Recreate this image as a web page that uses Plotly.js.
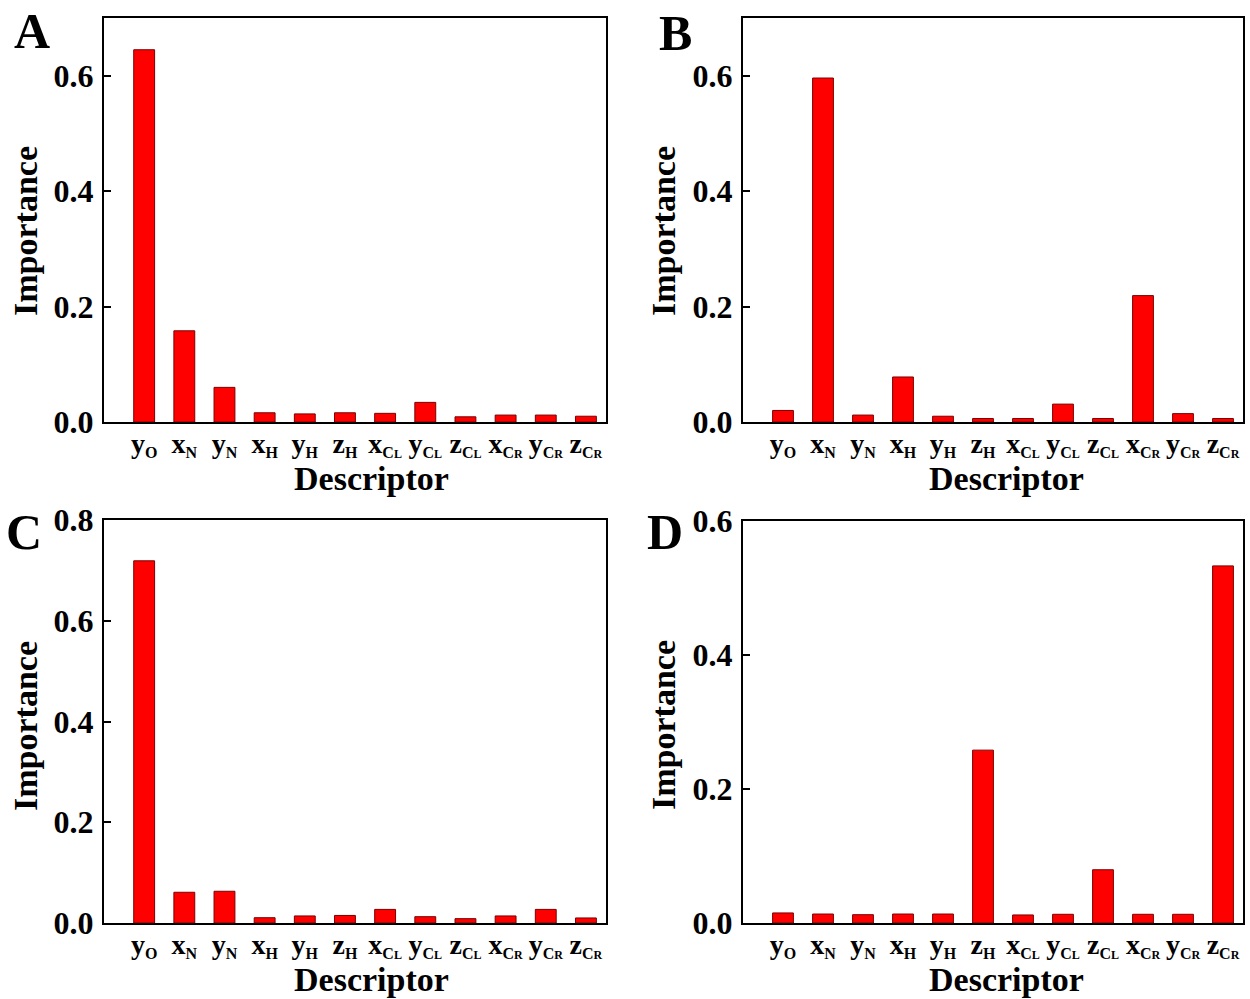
<!DOCTYPE html>
<html>
<head>
<meta charset="utf-8">
<script src="https://cdn.plot.ly/plotly-3.0.1.min.js"></script>
<style>html,body{margin:0;padding:0;background:#fff;}#plot{width:1250px;height:999px;}</style>
</head>
<body>
<div id="plot"></div>
<script>
// Descriptor categories (tick labels)
const categories = [
  'y<sub><span style="font-size:16px">O</span></sub>',
  'x<sub><span style="font-size:16px">N</span></sub>',
  'y<sub><span style="font-size:16px">N</span></sub>',
  'x<sub><span style="font-size:16px">H</span></sub>',
  'y<sub><span style="font-size:16px">H</span></sub>',
  'z<sub><span style="font-size:16px">H</span></sub>',
  'x<sub><span style="font-size:16px">C</span><span style="font-size:12px">L</span></sub>',
  'y<sub><span style="font-size:16px">C</span><span style="font-size:12px">L</span></sub>',
  'z<sub><span style="font-size:16px">C</span><span style="font-size:12px">L</span></sub>',
  'x<sub><span style="font-size:16px">C</span><span style="font-size:12px">R</span></sub>',
  'y<sub><span style="font-size:16px">C</span><span style="font-size:12px">R</span></sub>',
  'z<sub><span style="font-size:16px">C</span><span style="font-size:12px">R</span></sub>'
];
// Importance values per panel
const importanceA = [0.645, 0.158, 0.060, 0.016, 0.014, 0.016, 0.015, 0.034, 0.009, 0.012, 0.012, 0.010];
const importanceB = [0.020, 0.596, 0.012, 0.078, 0.010, 0.006, 0.006, 0.031, 0.006, 0.219, 0.0145, 0.006];
const importanceC = [0.719, 0.061, 0.063, 0.0105, 0.014, 0.015, 0.027, 0.0125, 0.0086, 0.014, 0.027, 0.010];
const importanceD = [0.015, 0.0134, 0.0124, 0.0134, 0.0134, 0.258, 0.012, 0.013, 0.0795, 0.013, 0.013, 0.533];
const panelLabels = ['A', 'B', 'C', 'D'];
const yTickValsAB = [0, 0.2, 0.4, 0.6];
const yTickValsC = [0, 0.2, 0.4, 0.6, 0.8];
const yTickValsD = [0, 0.2, 0.4, 0.6];
const yTickText = (v) => v.map(x => x.toFixed(1));

const FONT = '"Liberation Serif", "Times New Roman", serif';
const W = 1250, H = 999;
const px = (x) => x / W;
const py = (y) => 1 - y / H;

const series = [importanceA, importanceB, importanceC, importanceD];
const traces = series.map((vals, i) => ({
  type: 'bar',
  x: categories,
  y: vals,
  xaxis: i === 0 ? 'x' : 'x' + (i + 1),
  yaxis: i === 0 ? 'y' : 'y' + (i + 1),
  width: 0.52,
  marker: {color: '#ff0000', line: {color: '#7a0000', width: 1}},
  hoverinfo: 'y'
}));

const xDom = [[px(104), px(606)], [px(743), px(1243)], [px(104), px(606)], [px(743), px(1243)]];
const yDom = [[py(422), py(18)], [py(422), py(18)], [py(923), py(520)], [py(923), py(521)]];
const yRanges = [[0, 0.7], [0, 0.7], [0, 0.8], [0, 0.6]];
const yTicks = [yTickValsAB, yTickValsAB, yTickValsC, yTickValsD];

const layout = {
  width: W, height: H,
  margin: {l: 0, r: 0, t: 0, b: 0},
  paper_bgcolor: '#fff', plot_bgcolor: '#fff',
  showlegend: false,
  font: {family: FONT, color: '#000'},
  annotations: []
};

for (let i = 0; i < 4; i++) {
  const s = i === 0 ? '' : String(i + 1);
  layout['xaxis' + s] = {
    domain: xDom[i], anchor: 'y' + s,
    type: 'category', range: [-1, 11.5],
    showline: true, linecolor: '#000', linewidth: 2, mirror: true,
    ticks: '', showgrid: false, zeroline: false,
    tickfont: {family: FONT, size: 28, color: '#000', weight: 'bold'},
    ticklabelstandoff: -5
  };
  layout['yaxis' + s] = {
    domain: yDom[i], anchor: 'x' + s,
    range: yRanges[i],
    tickvals: yTicks[i], ticktext: yTickText(yTicks[i]),
    showline: true, linecolor: '#000', linewidth: 2, mirror: true,
    ticks: 'inside', ticklen: 7, tickwidth: 2, tickcolor: '#000',
    showgrid: false, zeroline: false,
    tickfont: {family: FONT, size: 32, color: '#000', weight: 'bold'},
    ticklabelstandoff: 2
  };
}

const descX = [372, 1006, 372, 1006];
const descY = [479, 479, 979, 979];
const impX = [25, 663, 25, 663];
const impY = [231, 231, 726, 725];
const letX = [32, 675, 24, 665];
const letY = [31, 33, 532, 532];
for (let i = 0; i < 4; i++) {
  layout.annotations.push({
    xref: 'paper', yref: 'paper', x: px(descX[i]), y: py(descY[i]),
    xanchor: 'center', yanchor: 'middle', showarrow: false,
    text: '<b>Descriptor</b>', font: {family: FONT, size: 34, color: '#000'}
  });
  layout.annotations.push({
    xref: 'paper', yref: 'paper', x: px(impX[i]), y: py(impY[i]),
    xanchor: 'center', yanchor: 'middle', showarrow: false, textangle: -90,
    text: '<b>Importance</b>', font: {family: FONT, size: 34, color: '#000'}
  });
  layout.annotations.push({
    xref: 'paper', yref: 'paper', x: px(letX[i]), y: py(letY[i]),
    xanchor: 'center', yanchor: 'middle', showarrow: false,
    text: '<b>' + panelLabels[i] + '</b>', font: {family: FONT, size: 50, color: '#000'}
  });
}

Plotly.newPlot('plot', traces, layout, {displayModeBar: false});
</script>
</body>
</html>
